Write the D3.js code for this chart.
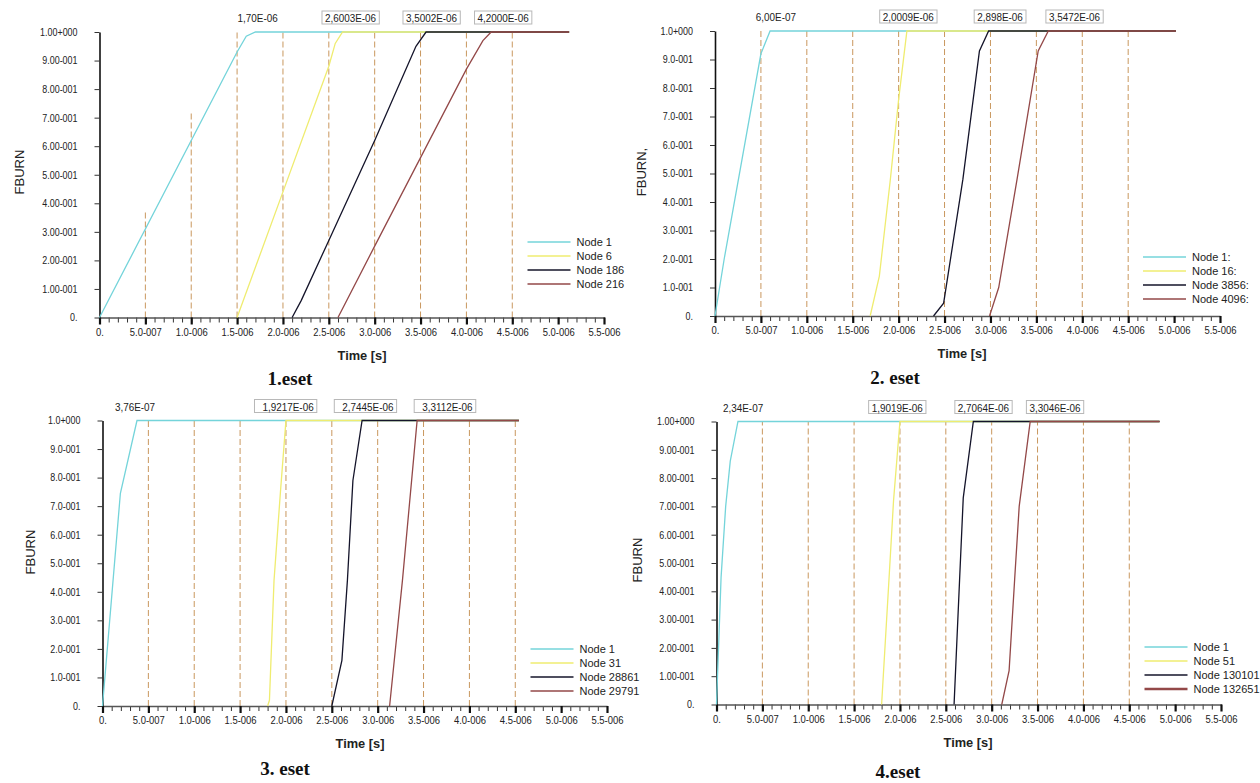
<!DOCTYPE html>
<html>
<head>
<meta charset="utf-8">
<script src="https://cdn.jsdelivr.net/npm/d3@7"></script>
<style>
  body { margin: 0; background: #fff; }
  text { font-family: "Liberation Sans", Arial, sans-serif; fill: #222; }
</style>
</head>
<body>
<svg id="chart" width="1260" height="783"></svg>
<script>
// axis ticks + labels (as printed by the solver)
var timeTicks = [0, 5e-7, 1e-6, 1.5e-6, 2e-6, 2.5e-6, 3e-6, 3.5e-6, 4e-6, 4.5e-6, 5e-6, 5.5e-6];
var timeTickLabels = ["0.", "5.0-007", "1.0-006", "1.5-006", "2.0-006", "2.5-006", "3.0-006",
                      "3.5-006", "4.0-006", "4.5-006", "5.0-006", "5.5-006"];
var fburnTicks = [0, 0.1, 0.2, 0.3, 0.4, 0.5, 0.6, 0.7, 0.8, 0.9, 1.0];
var fburnLabelsLong = ["0.", "1.00-001", "2.00-001", "3.00-001", "4.00-001", "5.00-001",
                       "6.00-001", "7.00-001", "8.00-001", "9.00-001", "1.00+000"];
var fburnLabelsShort = ["0.", "1.0-001", "2.0-001", "3.0-001", "4.0-001", "5.0-001",
                        "6.0-001", "7.0-001", "8.0-001", "9.0-001", "1.0+000"];
var guideTimes = [5e-7, 1e-6, 1.5e-6, 2e-6, 2.5e-6, 3e-6, 3.5e-6, 4e-6, 4.5e-6];

// 1.eset
var set1Nodes = ["Node 1", "Node 6", "Node 186", "Node 216"];
var set1Curves = [
  [[0, 0], [1.5e-6, 0.93], [1.6e-6, 0.985], [1.7e-6, 1], [5.12e-6, 1]],
  [[1.5e-6, 0], [2.0e-6, 0.44], [2.5e-6, 0.88], [2.57e-6, 0.96], [2.65e-6, 1], [5.12e-6, 1]],
  [[2.1e-6, 0], [2.2e-6, 0.06], [2.5e-6, 0.27], [3.0e-6, 0.62], [3.45e-6, 0.95], [3.56e-6, 1], [5.12e-6, 1]],
  [[2.6e-6, 0], [3.0e-6, 0.25], [3.5e-6, 0.56], [4.0e-6, 0.87], [4.18e-6, 0.97], [4.27e-6, 1], [5.12e-6, 1]]
];
var set1Marks = ["1,70E-06", "2,6003E-06", "3,5002E-06", "4,2000E-06"];
var set1MarkAt = [1.724e-6, 2.737e-6, 3.62e-6, 4.40e-6];
var set1GuideTops = [0.37, 0.72, 1, 1, 1, 1, 1, 1, 1];

// 2. eset
var set2Nodes = ["Node 1:", "Node 16:", "Node 3856:", "Node 4096:"];
var set2Curves = [
  [[0, 0], [0.1e-6, 0.2], [0.5e-6, 0.92], [0.6e-6, 1], [5.02e-6, 1]],
  [[1.69e-6, 0], [1.79e-6, 0.14], [1.91e-6, 0.48], [2.0e-6, 0.76], [2.09e-6, 1], [5.02e-6, 1]],
  [[2.38e-6, 0], [2.49e-6, 0.045], [2.7e-6, 0.48], [2.88e-6, 0.93], [2.98e-6, 1], [5.02e-6, 1]],
  [[2.99e-6, 0], [3.09e-6, 0.1], [3.29e-6, 0.48], [3.52e-6, 0.93], [3.63e-6, 1], [5.02e-6, 1]]
];
var set2Marks = ["6,00E-07", "2,0009E-06", "2,898E-06", "3,5472E-06"];
var set2MarkAt = [0.663e-6, 2.105e-6, 3.104e-6, 3.915e-6];
var set2GuideTops = [1, 1, 1, 1, 1, 1, 1, 1, 1];

// 3. eset
var set3Nodes = ["Node 1", "Node 31", "Node 28861", "Node 29791"];
var set3Curves = [
  [[0, 0], [0.195e-6, 0.745], [0.376e-6, 1], [4.54e-6, 1]],
  [[1.8e-6, 0], [1.82e-6, 0.02], [1.87e-6, 0.44], [1.94e-6, 0.75], [2.0e-6, 1], [4.54e-6, 1]],
  [[2.5e-6, 0], [2.61e-6, 0.16], [2.67e-6, 0.44], [2.73e-6, 0.79], [2.83e-6, 1], [4.54e-6, 1]],
  [[3.13e-6, 0], [3.27e-6, 0.44], [3.43e-6, 1], [4.54e-6, 1]]
];
var set3Marks = ["3,76E-07", "1,9217E-06", "2,7445E-06", "3,3112E-06"];
var set3MarkAt = [0.354e-6, 2.023e-6, 2.893e-6, 3.76e-6];
var set3GuideTops = [1, 1, 1, 1, 1, 1, 1, 1, 1];

// 4.eset
var set4Nodes = ["Node 1", "Node 51", "Node 130101", "Node 132651"];
var set4Curves = [
  [[0, 0], [0.05e-6, 0.45], [0.1e-6, 0.7], [0.15e-6, 0.86], [0.234e-6, 1], [4.83e-6, 1]],
  [[1.8e-6, 0], [1.88e-6, 0.44], [1.93e-6, 0.72], [2.0e-6, 1], [4.83e-6, 1]],
  [[2.59e-6, 0], [2.65e-6, 0.44], [2.69e-6, 0.73], [2.8e-6, 1], [4.83e-6, 1]],
  [[3.11e-6, 0], [3.19e-6, 0.12], [3.25e-6, 0.44], [3.3e-6, 0.7], [3.42e-6, 1], [4.83e-6, 1]]
];
var set4Marks = ["2,34E-07", "1,9019E-06", "2,7064E-06", "3,3046E-06"];
var set4MarkAt = [0.29e-6, 1.97e-6, 2.91e-6, 3.69e-6];
var set4GuideTops = [1, 1, 1, 1, 1, 1, 1, 1, 1];

var seriesColors = ["#74d4da", "#efec70", "#14142a", "#934848"];

// panel layout
var panels = [
  {nodes: set1Nodes, curves: set1Curves, marks: set1Marks, markAt: set1MarkAt, guides: set1GuideTops,
   yLabels: fburnLabelsLong, yTitle: "FBURN", title: "1.eset",
   x0: 99.5, x1: 604, yTop: 32, yBot: 317.5, legendY: 242, yTitleX: 19, yTitleY: 172,
   timeX: 362, titleX: 290, titleY: 385, boxPad: 3},
  {nodes: set2Nodes, curves: set2Curves, marks: set2Marks, markAt: set2MarkAt, guides: set2GuideTops,
   yLabels: fburnLabelsShort, yTitle: "FBURN,", title: "2. eset",
   x0: 715, x1: 1220, yTop: 31, yBot: 316, legendY: 257, yTitleX: 641, yTitleY: 172,
   timeX: 962, titleX: 895, titleY: 384, boxPad: 3},
  {nodes: set3Nodes, curves: set3Curves, marks: set3Marks, markAt: set3MarkAt, guides: set3GuideTops,
   yLabels: fburnLabelsShort, yTitle: "FBURN", title: "3. eset",
   x0: 102.5, x1: 607, yTop: 420.5, yBot: 706, legendY: 649, yTitleX: 30, yTitleY: 552,
   timeX: 360, titleX: 285, titleY: 775, boxPad: 8},
  {nodes: set4Nodes, curves: set4Curves, marks: set4Marks, markAt: set4MarkAt, guides: set4GuideTops,
   yLabels: fburnLabelsLong, yTitle: "FBURN", title: "4.eset",
   x0: 716.5, x1: 1221, yTop: 421.5, yBot: 704.5, legendY: 647, yTitleX: 637, yTitleY: 560,
   timeX: 968, titleX: 898, titleY: 778, boxPad: 3}
];

var minorTicks = d3.range(0, 56).map(function (i) { return i * 1e-7; });
var svg = d3.select("#chart");

// squeeze text horizontally (the original uses a narrow font)
function squeeze(sel, sx) {
  sel.each(function () {
    var t = d3.select(this);
    var x = +t.attr("x") || 0;
    t.attr("x", x / sx).attr("transform", "scale(" + sx + ",1)");
  });
}

panels.forEach(function (p, pi) {
  var x = d3.scaleLinear().domain([0, 5.5e-6]).range([p.x0, p.x1]);
  var y = d3.scaleLinear().domain([0, 1]).range([p.yBot, p.yTop]);
  var g = svg.append("g");

  // dashed time guides
  g.selectAll(".guide")
    .data(guideTimes)
    .enter()
    .append("line")
      .attr("x1", function (d) { return x(d); })
      .attr("x2", function (d) { return x(d); })
      .attr("y1", y(0))
      .attr("y2", function (d, i) { return y(p.guides[i]); })
      .attr("stroke", "#c9975e")
      .attr("stroke-width", 1)
      .attr("stroke-dasharray", "6,3");

  // minor x ticks
  g.append("g")
    .attr("transform", "translate(0," + y(0) + ")")
    .call(d3.axisBottom(x).tickValues(minorTicks).tickSize(5).tickFormat(""))
    .call(function (a) {
      a.select(".domain").remove();
      a.selectAll(".tick line").attr("stroke", "#333").attr("stroke-width", 1);
    });

  // major x ticks
  g.append("g")
    .attr("transform", "translate(0," + y(0) + ")")
    .call(d3.axisBottom(x).tickValues(timeTicks).tickSize(7).tickSizeOuter(0)
      .tickFormat(function (d, i) { return timeTickLabels[i]; }))
    .call(function (a) {
      a.select(".domain").attr("stroke", "#555").attr("stroke-width", 1.6);
      a.selectAll(".tick line").attr("stroke", "#111").attr("stroke-width", 2.2);
      a.selectAll(".tick text").attr("font-size", 10.5).attr("fill", "#222")
        .attr("font-family", null).attr("y", 11).call(squeeze, 0.9);
    });

  // y axis
  g.append("g")
    .attr("transform", "translate(" + x(0) + ",0)")
    .call(d3.axisLeft(y).tickValues(fburnTicks).tickSize(5).tickSizeOuter(0).tickPadding(17)
      .tickFormat(function (d, i) { return p.yLabels[i]; }))
    .call(function (a) {
      a.select(".domain").attr("stroke", "#111").attr("stroke-width", 1.6);
      a.selectAll(".tick line").attr("stroke", "#333");
      a.selectAll(".tick text").attr("font-size", 10.5).attr("fill", "#222")
        .attr("font-family", null).call(squeeze, 0.85);
    });

  // curves
  var line = d3.line()
    .x(function (d) { return x(d[0]); })
    .y(function (d) { return y(d[1]); });
  g.selectAll(".curve")
    .data(p.curves)
    .enter()
    .append("path")
      .attr("d", line)
      .attr("fill", "none")
      .attr("stroke", function (d, i) { return seriesColors[i]; })
      .attr("stroke-width", 1.3);

  // value marks above the plot
  var sx = 0.9;
  p.marks.forEach(function (m, i) {
    var mg = g.append("g").attr("transform", "translate(" + x(p.markAt[i]) + "," + (y(1) - 10) + ")");
    var t = mg.append("text")
      .attr("text-anchor", "middle")
      .attr("font-size", 11)
      .attr("transform", "scale(" + sx + ",1)")
      .text(m);
    if (i > 0) {
      var bb = t.node().getBBox();
      mg.insert("rect", function () { return t.node(); })
        .attr("x", bb.x * sx - p.boxPad)
        .attr("y", -11)
        .attr("width", bb.width * sx + p.boxPad + 3)
        .attr("height", 13)
        .attr("fill", "#fff")
        .attr("stroke", "#b8b8b8");
    }
  });

  // legend
  var lg = g.append("g").attr("transform", "translate(" + (x(0) + 428) + "," + p.legendY + ")");
  p.nodes.forEach(function (n, i) {
    lg.append("line")
      .attr("x1", 0).attr("x2", 43)
      .attr("y1", i * 14).attr("y2", i * 14)
      .attr("stroke", seriesColors[i])
      .attr("stroke-width", pi === 3 && i === 3 ? 2.4 : 1.3);
    lg.append("text")
      .attr("x", 49).attr("y", i * 14 + 4)
      .attr("font-size", 11)
      .text(n);
  });

  // axis titles
  g.append("text")
    .attr("transform", "translate(" + p.yTitleX + "," + p.yTitleY + ") rotate(-90)")
    .attr("text-anchor", "middle")
    .attr("dy", "0.35em")
    .attr("font-size", 13)
    .text(p.yTitle);

  g.append("text")
    .attr("transform", "translate(" + p.timeX + "," + (y(0) + 42) + ") scale(0.95,1)")
    .attr("text-anchor", "middle")
    .attr("font-size", 13.5)
    .attr("font-weight", "bold")
    .text("Time [s]");

  g.append("text")
    .attr("x", p.titleX)
    .attr("y", p.titleY)
    .attr("text-anchor", "middle")
    .style("font-family", "'Liberation Serif', 'Times New Roman', serif")
    .attr("font-size", 19)
    .attr("font-weight", "bold")
    .style("fill", "#111")
    .text(p.title);
});
</script>
</body>
</html>
